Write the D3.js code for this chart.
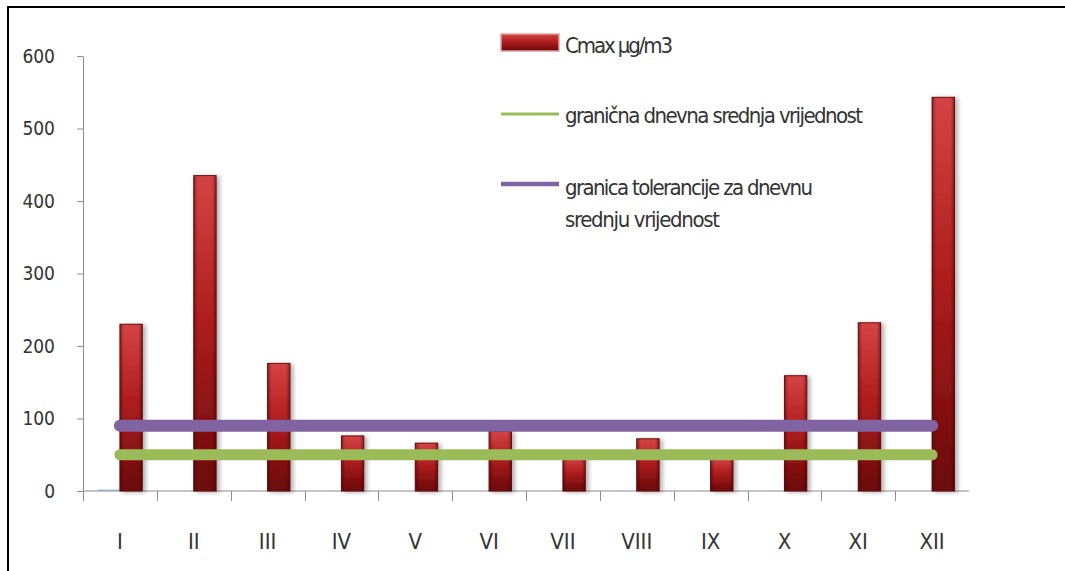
<!DOCTYPE html>
<html>
<head>
<meta charset="utf-8">
<script src="https://cdn.jsdelivr.net/npm/d3@7/dist/d3.min.js"></script>
<style>
  html, body { margin: 0; padding: 0; background: #ffffff; }
  svg { display: block; }
  text { font-family: 'Liberation Sans Narrow', 'DejaVu Sans Condensed', 'Liberation Sans', sans-serif; fill: #333333; }
</style>
</head>
<body>
<svg id="chart" width="1065" height="571"></svg>
<script>
// Months (Roman numerals) and measured maxima
const months = ["I", "II", "III", "IV", "V", "VI", "VII", "VIII", "IX", "X", "XI", "XII"];
const cmax = [230, 435, 176, 76, 66, 82, 47, 72, 46, 159, 232, 543];
const baseSeries = [2, 0, 0, 0, 0, 0, 0, 0, 0, 0, 0, 0];
// Limit values (µg/m3)
const dailyLimit = 50;
const toleranceLimit = 90;
const yTicks = [0, 100, 200, 300, 400, 500, 600];
const legendLabels = ["Cmax µg/m3", "granična dnevna srednja vrijednost", "granica tolerancije za dnevnu", "srednju vrijednost"];

const svg = d3.select("#chart");
const plotL = 83, plotR = 969, plotT = 56, plotB = 491;

const x0 = d3.scaleBand().domain(months).range([plotL, plotR]).paddingInner(0).paddingOuter(0);
const x1 = d3.scaleBand().domain(["base", "cmax"]).range([0, x0.bandwidth()]).paddingInner(0).paddingOuter(0.65);
const y = d3.scaleLinear().domain([0, 600]).range([plotB, plotT]);

const defs = svg.append("defs");
const vg = defs.append("linearGradient").attr("id", "barV").attr("x1", 0).attr("y1", 0).attr("x2", 0).attr("y2", 1);
vg.append("stop").attr("offset", "0%").attr("stop-color", "#d44444");
vg.append("stop").attr("offset", "45%").attr("stop-color", "#b01e1e");
vg.append("stop").attr("offset", "100%").attr("stop-color", "#6a0808");
const hg = defs.append("linearGradient").attr("id", "barH").attr("x1", 0).attr("y1", 0).attr("x2", 1).attr("y2", 0);
hg.append("stop").attr("offset", "0%").attr("stop-color", "#3a0000").attr("stop-opacity", 0.45);
hg.append("stop").attr("offset", "18%").attr("stop-color", "#3a0000").attr("stop-opacity", 0.0);
hg.append("stop").attr("offset", "82%").attr("stop-color", "#3a0000").attr("stop-opacity", 0.0);
hg.append("stop").attr("offset", "100%").attr("stop-color", "#3a0000").attr("stop-opacity", 0.45);
const sh = defs.append("filter").attr("id", "shadow").attr("x", "-50%").attr("y", "-10%").attr("width", "200%").attr("height", "120%");
sh.append("feDropShadow").attr("dx", 3).attr("dy", 1).attr("stdDeviation", 2).attr("flood-color", "#000").attr("flood-opacity", 0.3);

// Frame lines
svg.append("line").attr("x1", 8).attr("x2", 8).attr("y1", 6).attr("y2", 571).attr("stroke", "#000").attr("stroke-width", 2);
svg.append("line").attr("x1", 7).attr("x2", 1065).attr("y1", 7).attr("y2", 7).attr("stroke", "#000").attr("stroke-width", 2);

// Y axis
const yAxis = svg.append("g").attr("transform", `translate(${plotL},0)`)
  .call(d3.axisLeft(y).tickValues(yTicks).tickSize(6).tickPadding(22).tickSizeOuter(0));
yAxis.select(".domain").attr("stroke", "#8c8c8c");
yAxis.selectAll(".tick line").attr("stroke", "#8c8c8c");
yAxis.attr("font-family", null).attr("font-size", 19);
yAxis.selectAll(".tick text").attr("fill", "#333");

// X axis line and category boundary ticks
svg.append("line").attr("x1", plotL).attr("x2", plotR).attr("y1", plotB).attr("y2", plotB).attr("stroke", "#8c8c8c");
svg.append("g").selectAll("line").data(months).join("line")
  .attr("x1", d => Math.round(x0(d)) + 0.5).attr("x2", d => Math.round(x0(d)) + 0.5)
  .attr("y1", plotB).attr("y2", plotB + 10).attr("stroke", "#8c8c8c");
svg.append("g").selectAll("text").data(months).join("text")
  .attr("x", d => x0(d) + x0.bandwidth() / 2).attr("y", 549)
  .attr("text-anchor", "middle").attr("font-size", 22).text(d => d);

// Bars
const bars = svg.append("g");
bars.selectAll("rect.base").data(months.map((m, i) => ({ m, v: baseSeries[i] })).filter(d => d.v > 0)).join("rect")
  .attr("class", "base")
  .attr("x", d => x0(d.m) + x1("base")).attr("width", x1.bandwidth())
  .attr("y", d => y(d.v)).attr("height", d => y(0) - y(d.v)).attr("fill", "#95b3d7");
const cm = months.map((m, i) => ({ m, v: cmax[i] }));
bars.selectAll("rect.cmax").data(cm).join("rect")
  .attr("class", "cmax")
  .attr("x", d => x0(d.m) + x1("cmax")).attr("width", x1.bandwidth())
  .attr("y", d => y(d.v)).attr("height", d => y(0) - y(d.v))
  .attr("fill", "url(#barV)").attr("stroke", "#6a0c0c").attr("stroke-width", 1).attr("filter", "url(#shadow)");
bars.selectAll("rect.edge").data(cm).join("rect")
  .attr("class", "edge")
  .attr("x", d => x0(d.m) + x1("cmax")).attr("width", x1.bandwidth())
  .attr("y", d => y(d.v)).attr("height", d => y(0) - y(d.v))
  .attr("fill", "url(#barH)");

// Limit lines
const cx = m => x0(m) + x0.bandwidth() / 2;
const limitLine = v => d3.line().x(d => cx(d)).y(() => y(v))(months);
svg.append("path").attr("d", limitLine(toleranceLimit)).attr("stroke", "#8064a2").attr("stroke-width", 12)
  .attr("stroke-linecap", "round").attr("fill", "none");
svg.append("path").attr("d", limitLine(dailyLimit)).attr("stroke", "#9bbb59").attr("stroke-width", 11)
  .attr("stroke-linecap", "round").attr("fill", "none");

// Legend
const lg = svg.append("g");
lg.append("rect").attr("x", 501).attr("y", 34).attr("width", 58).attr("height", 17)
  .attr("fill", "url(#barV)").attr("stroke", "#e0a0a0").attr("stroke-width", 1.5);
lg.append("line").attr("x1", 501).attr("x2", 559).attr("y1", 114).attr("y2", 114).attr("stroke", "#9bbb59").attr("stroke-width", 3);
lg.append("line").attr("x1", 501).attr("x2", 559).attr("y1", 184).attr("y2", 184).attr("stroke", "#8064a2").attr("stroke-width", 4.5);
const legendPos = [[53, 108], [123, 298], [195, 248], [227, 155]];
lg.selectAll("text").data(legendLabels).join("text")
  .attr("x", 565).attr("y", (d, i) => legendPos[i][0])
  .attr("textLength", (d, i) => legendPos[i][1])
  .attr("font-size", 22).text(d => d);
</script>
</body>
</html>
